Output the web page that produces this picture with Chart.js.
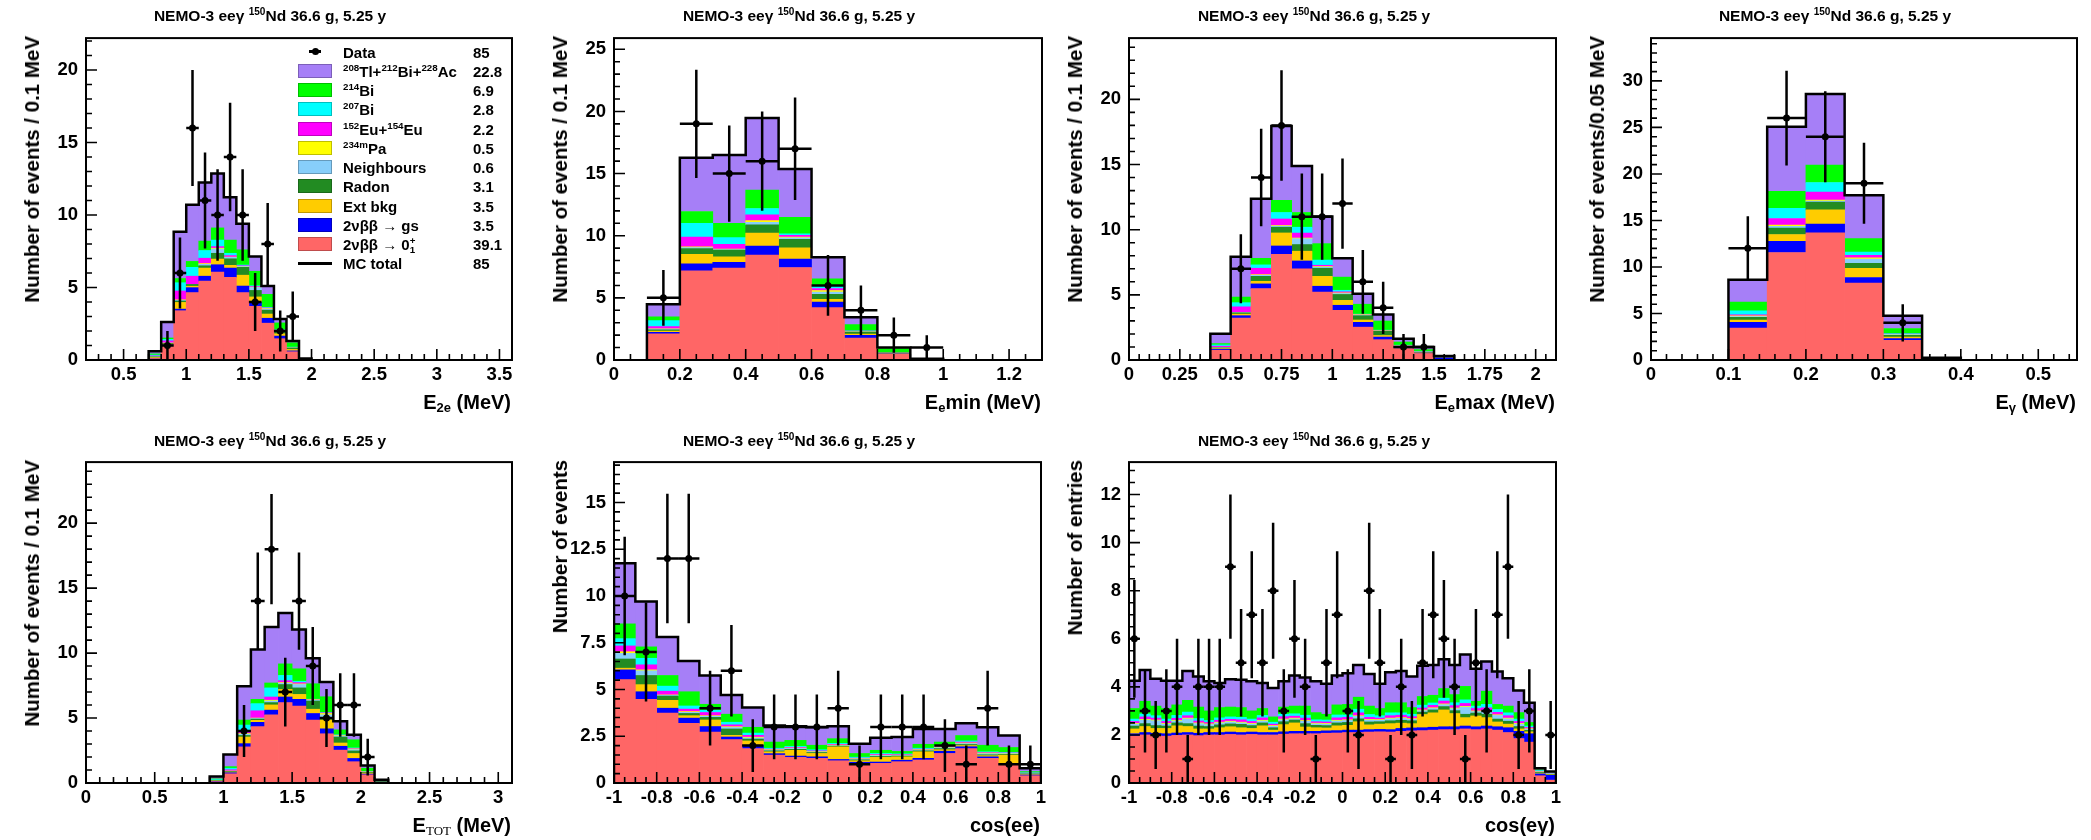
<!DOCTYPE html>
<html>
<head>
<meta charset="utf-8">
<title>NEMO-3 eeγ 150Nd</title>
<script src="https://cdn.jsdelivr.net/npm/chart.js@4/dist/chart.umd.min.js"></script>
<style>
  body { margin: 0; background: #fff; }
  #page { position: relative; width: 2091px; height: 840px; overflow: hidden;
          font-family: "Liberation Sans", Arial, Helvetica, sans-serif; font-weight: bold; color: #000; }
  #page canvas { position: absolute; }
  .txt { position: absolute; white-space: nowrap; }
  .txt sup, .txt sub { font-size: 0.65em; line-height: 0; position: relative; vertical-align: baseline; }
  .txt sup { top: -0.6em; }
  .txt sub { top: 0.3em; }
  .title { font-size: 15.5px; line-height: 15.5px; width: 400px; text-align: center; }
  .xtitle { font-size: 20px; line-height: 20px; text-align: right; }
  .ytitle { font-size: 20.5px; line-height: 21px; writing-mode: vertical-rl; transform: rotate(180deg); }
  .serif { font-family: "Liberation Serif", "Times New Roman", serif; font-weight: normal; }
  .leg { font-size: 15px; line-height: 15px; }
  .legbox { position: absolute; width: 34px; height: 14px; box-sizing: border-box; border: 1px solid rgba(0,0,0,0.25); }
  .legline { position: absolute; background: #000; }
  .legdot { position: absolute; width: 7px; height: 7px; border-radius: 50%; background: #000; }
</style>
</head>
<body>
<div id="page"></div>
<script>
// MC components, bottom of the stack first
const componentNames = [
  '2&nu;&beta;&beta; &rarr; 0<sub>1</sub><sup style="margin-left:-0.55em">+</sup>',
  '2&nu;&beta;&beta; &rarr; gs',
  'Ext bkg',
  'Radon',
  'Neighbours',
  '<sup>234m</sup>Pa',
  '<sup>152</sup>Eu+<sup>154</sup>Eu',
  '<sup>207</sup>Bi',
  '<sup>214</sup>Bi',
  '<sup>208</sup>Tl+<sup>212</sup>Bi+<sup>228</sup>Ac'
];
const componentColours = ['#ff6666', '#0000ff', '#ffcc00', '#228b22', '#87cefa', '#ffff00', '#ff00ff', '#00ffff', '#00ff00', '#a67ff7'];
const componentCounts = ['39.1', '3.5', '3.5', '3.1', '0.6', '0.5', '2.2', '2.8', '6.9', '22.8'];
const dataCount = '85';
const mcCount = '85';

// E2e, 0.1 MeV bins
const e2eCentres = [0.75, 0.85, 0.95, 1.05, 1.15, 1.25, 1.35, 1.45, 1.55, 1.65, 1.75, 1.85, 1.95];
const e2eData = [0, 1, 6, 16, 11, 10, 14, 10, 4, 8, 2, 3, 0];
const e2eStack = [
  [0.10, 1.00, 3.40, 4.65, 5.44, 6.07, 5.71, 4.65, 3.70, 2.54, 1.47, 0.57, 0.00],
  [0.02, 0.05, 0.11, 0.34, 0.34, 0.50, 0.63, 0.45, 0.30, 0.34, 0.18, 0.06, 0.00],
  [0.05, 0.05, 0.46, 0.10, 0.56, 0.39, 0.19, 0.75, 0.35, 0.29, 0.16, 0.10, 0.02],
  [0.05, 0.05, 0.10, 0.12, 0.16, 0.40, 0.45, 0.54, 0.45, 0.27, 0.20, 0.10, 0.08],
  [0.02, 0.02, 0.05, 0.00, 0.10, 0.30, 0.10, 0.05, 0.20, 0.07, 0.02, 0.02, 0.00],
  [0.00, 0.00, 0.03, 0.00, 0.05, 0.05, 0.02, 0.02, 0.02, 0.04, 0.01, 0.01, 0.00],
  [0.05, 0.15, 0.61, 0.57, 0.37, 0.11, 0.10, 0.04, 0.05, 0.04, 0.02, 0.01, 0.00],
  [0.05, 0.10, 0.57, 0.61, 0.53, 0.45, 0.16, 0.05, 0.05, 0.04, 0.02, 0.02, 0.00],
  [0.08, 0.10, 0.29, 0.41, 0.65, 0.84, 0.91, 1.05, 1.00, 0.90, 0.48, 0.30, 0.00],
  [0.18, 1.10, 3.22, 3.90, 4.04, 3.76, 2.95, 1.80, 1.02, 0.57, 0.27, 0.12, 0.00]
];

// Ee min
const eminCentres = [0.15, 0.25, 0.35, 0.45, 0.55, 0.65, 0.75, 0.85, 0.95];
const eminData = [5, 19, 15, 16, 17, 6, 4, 2, 1];
const eminStack = [
  [2.11, 7.18, 7.39, 8.44, 7.44, 4.22, 1.77, 0.45, 0.00],
  [0.12, 0.55, 0.47, 0.72, 0.69, 0.45, 0.21, 0.05, 0.03],
  [0.10, 0.77, 0.45, 1.05, 0.89, 0.21, 0.10, 0.04, 0.00],
  [0.10, 0.47, 0.53, 0.66, 0.69, 0.40, 0.16, 0.03, 0.05],
  [0.05, 0.08, 0.05, 0.21, 0.12, 0.18, 0.03, 0.01, 0.00],
  [0.03, 0.05, 0.03, 0.13, 0.07, 0.13, 0.02, 0.00, 0.00],
  [0.18, 0.80, 0.39, 0.48, 0.13, 0.16, 0.03, 0.01, 0.00],
  [0.48, 1.10, 0.53, 0.50, 0.13, 0.18, 0.03, 0.01, 0.00],
  [0.31, 0.95, 1.16, 1.48, 1.32, 0.61, 0.50, 0.32, 0.02],
  [1.01, 4.33, 5.49, 5.80, 3.88, 1.72, 0.58, 0.08, 0.00]
];

// Ee max
const emaxCentres = [0.45, 0.55, 0.65, 0.75, 0.85, 0.95, 1.05, 1.15, 1.25, 1.35, 1.45, 1.55];
const emaxData = [0, 7, 14, 18, 11, 11, 12, 6, 4, 1, 1, 0];
const emaxStack = [
  [0.75, 3.22, 5.48, 8.10, 6.99, 5.21, 3.82, 2.52, 1.56, 0.88, 0.50, 0.05],
  [0.08, 0.18, 0.36, 0.65, 0.61, 0.45, 0.38, 0.37, 0.20, 0.06, 0.04, 0.12],
  [0.05, 0.12, 0.20, 1.00, 0.75, 0.76, 0.38, 0.18, 0.12, 0.05, 0.03, 0.00],
  [0.05, 0.10, 0.38, 0.44, 0.51, 0.62, 0.45, 0.33, 0.33, 0.06, 0.03, 0.05],
  [0.02, 0.02, 0.08, 0.08, 0.45, 0.08, 0.07, 0.05, 0.02, 0.02, 0.01, 0.00],
  [0.01, 0.01, 0.05, 0.05, 0.05, 0.05, 0.05, 0.03, 0.02, 0.01, 0.00, 0.00],
  [0.10, 0.43, 0.49, 0.50, 0.38, 0.10, 0.08, 0.02, 0.02, 0.01, 0.01, 0.00],
  [0.10, 0.32, 0.26, 0.50, 0.45, 0.40, 0.12, 0.02, 0.02, 0.05, 0.05, 0.00],
  [0.10, 0.43, 0.50, 0.93, 1.13, 1.26, 1.01, 0.76, 0.70, 0.24, 0.13, 0.04],
  [0.75, 3.09, 4.58, 5.71, 3.57, 2.09, 1.44, 0.80, 0.50, 0.26, 0.20, 0.04]
];

// E gamma, 0.05 MeV bins
const egamCentres = [0.125, 0.175, 0.225, 0.275, 0.325, 0.375];
const egamData = [12, 26, 24, 19, 4, 0];
const egamStack = [
  [3.42, 11.55, 13.66, 8.27, 2.11, 0.00],
  [0.63, 1.20, 0.95, 0.60, 0.18, 0.05],
  [0.25, 0.74, 1.52, 0.99, 0.17, 0.05],
  [0.28, 0.70, 0.84, 0.53, 0.18, 0.10],
  [0.10, 0.18, 0.11, 0.45, 0.08, 0.00],
  [0.08, 0.14, 0.10, 0.15, 0.04, 0.00],
  [0.10, 0.70, 0.88, 0.27, 0.03, 0.00],
  [0.42, 1.09, 1.02, 0.35, 0.05, 0.00],
  [0.95, 1.83, 1.87, 1.44, 0.55, 0.00],
  [2.40, 6.94, 7.64, 4.66, 1.36, 0.05]
];

// E TOT
const etotCentres = [0.95, 1.05, 1.15, 1.25, 1.35, 1.45, 1.55, 1.65, 1.75, 1.85, 1.95, 2.05, 2.15];
const etotData = [0, 0, 4, 14, 18, 7, 14, 9, 5, 6, 6, 2, 0];
const etotStack = [
  [0.10, 0.71, 2.78, 4.34, 5.25, 6.19, 5.93, 4.85, 3.79, 2.53, 1.64, 0.63, 0.02],
  [0.03, 0.08, 0.25, 0.33, 0.36, 0.43, 0.51, 0.50, 0.38, 0.30, 0.25, 0.06, 0.05],
  [0.02, 0.05, 0.51, 0.15, 0.40, 0.58, 0.38, 0.33, 0.68, 0.25, 0.38, 0.08, 0.00],
  [0.03, 0.05, 0.12, 0.10, 0.18, 0.38, 0.50, 0.63, 0.20, 0.46, 0.20, 0.05, 0.08],
  [0.00, 0.02, 0.10, 0.05, 0.12, 0.10, 0.26, 0.07, 0.20, 0.08, 0.10, 0.02, 0.00],
  [0.00, 0.01, 0.05, 0.03, 0.06, 0.05, 0.05, 0.03, 0.10, 0.04, 0.05, 0.01, 0.00],
  [0.03, 0.10, 0.25, 0.56, 0.25, 0.15, 0.10, 0.02, 0.05, 0.02, 0.03, 0.01, 0.00],
  [0.05, 0.12, 0.40, 0.55, 0.70, 0.40, 0.10, 0.02, 0.03, 0.03, 0.05, 0.03, 0.05],
  [0.06, 0.12, 0.39, 0.33, 0.38, 0.89, 0.96, 1.19, 1.21, 0.38, 0.63, 0.25, 0.00],
  [0.18, 0.94, 2.60, 3.84, 4.30, 3.91, 3.03, 1.96, 1.14, 0.66, 0.38, 0.20, 0.05]
];

// cos(ee)
const cosEeCentres = [-0.95, -0.85, -0.75, -0.65, -0.55, -0.45, -0.35, -0.25, -0.15, -0.05,
                      0.05, 0.15, 0.25, 0.35, 0.45, 0.55, 0.65, 0.75, 0.85, 0.95];
const cosEeData = [10, 7, 12, 12, 4, 6, 2, 3, 3, 3, 4, 1, 3, 3, 3, 2, 1, 4, 1, 1];
const cosEeStack = [
  [5.53, 4.47, 3.74, 3.19, 2.72, 2.32, 1.84, 1.49, 1.37, 1.32, 1.19, 1.02, 1.05, 1.14, 1.23, 1.58, 1.84, 1.32, 0.96, 0.39],
  [0.52, 0.41, 0.26, 0.28, 0.30, 0.14, 0.18, 0.08, 0.07, 0.08, 0.07, 0.09, 0.07, 0.08, 0.09, 0.12, 0.10, 0.08, 0.05, 0.04],
  [0.09, 0.38, 0.42, 0.13, 0.35, 0.09, 0.23, 0.10, 0.31, 0.18, 0.67, 0.08, 0.25, 0.18, 0.35, 0.08, 0.06, 0.06, 0.48, 0.03],
  [0.49, 0.49, 0.23, 0.12, 0.14, 0.34, 0.10, 0.05, 0.05, 0.05, 0.04, 0.05, 0.05, 0.04, 0.05, 0.06, 0.06, 0.05, 0.04, 0.03],
  [0.30, 0.25, 0.04, 0.06, 0.06, 0.08, 0.06, 0.04, 0.05, 0.03, 0.03, 0.04, 0.05, 0.03, 0.04, 0.05, 0.05, 0.06, 0.04, 0.02],
  [0.09, 0.05, 0.02, 0.04, 0.03, 0.04, 0.04, 0.02, 0.02, 0.02, 0.03, 0.02, 0.02, 0.02, 0.02, 0.03, 0.03, 0.03, 0.02, 0.01],
  [0.31, 0.27, 0.20, 0.13, 0.17, 0.10, 0.10, 0.03, 0.04, 0.04, 0.04, 0.03, 0.04, 0.03, 0.03, 0.04, 0.05, 0.03, 0.02, 0.01],
  [0.39, 0.35, 0.27, 0.17, 0.12, 0.14, 0.12, 0.05, 0.05, 0.06, 0.05, 0.05, 0.05, 0.04, 0.05, 0.05, 0.06, 0.04, 0.03, 0.02],
  [0.79, 0.61, 0.57, 0.76, 0.32, 0.43, 0.31, 0.33, 0.32, 0.24, 0.25, 0.20, 0.17, 0.13, 0.21, 0.18, 0.29, 0.35, 0.26, 0.06],
  [3.24, 2.42, 2.06, 1.65, 1.54, 1.02, 1.06, 0.88, 0.76, 0.96, 0.67, 0.52, 0.67, 0.77, 0.82, 0.70, 0.65, 0.96, 0.64, 0.18]
];

// cos(e gamma), 0.05 bins, two entries per event
const cosEgCentres = [-0.975, -0.925, -0.875, -0.825, -0.775, -0.725, -0.675, -0.625, -0.575, -0.525,
                      -0.475, -0.425, -0.375, -0.325, -0.275, -0.225, -0.175, -0.125, -0.075, -0.025,
                      0.025, 0.075, 0.125, 0.175, 0.225, 0.275, 0.325, 0.375, 0.425, 0.475,
                      0.525, 0.575, 0.625, 0.675, 0.725, 0.775, 0.825, 0.875, 0.925, 0.975];
const cosEgData = [6, 3, 2, 3, 4, 1, 4, 4, 4, 9,
                   5, 7, 5, 8, 3, 6, 4, 1, 5, 7,
                   3, 2, 8, 5, 1, 4, 2, 5, 7, 6,
                   4, 1, 5, 3, 7, 9, 2, 3, 0, 2];
const cosEgStack = [
  [1.95, 2.00, 1.97, 1.95, 1.98, 2.00, 1.97, 2.00, 2.00, 2.02, 2.00, 2.02, 2.00, 2.00, 2.03, 2.05, 2.05, 2.05, 2.07, 2.08,
   2.10, 2.10, 2.12, 2.13, 2.12, 2.15, 2.17, 2.18, 2.20, 2.22, 2.22, 2.25, 2.22, 2.25, 2.20, 2.10, 1.85, 1.70, 0.30, 0.12],
  [0.10, 0.10, 0.10, 0.10, 0.10, 0.10, 0.10, 0.10, 0.10, 0.10, 0.10, 0.10, 0.10, 0.10, 0.10, 0.10, 0.10, 0.10, 0.10, 0.10,
   0.10, 0.10, 0.10, 0.10, 0.10, 0.12, 0.12, 0.12, 0.12, 0.12, 0.12, 0.12, 0.12, 0.12, 0.14, 0.20, 0.30, 0.35, 0.08, 0.20],
  [0.20, 0.25, 0.20, 0.22, 0.30, 0.25, 0.18, 0.15, 0.20, 0.22, 0.20, 0.15, 0.28, 0.10, 0.30, 0.35, 0.18, 0.15, 0.12, 0.20,
   0.20, 0.35, 0.20, 0.22, 0.25, 0.22, 0.18, 0.55, 0.60, 0.70, 0.55, 0.35, 0.45, 0.35, 0.20, 0.15, 0.10, 0.08, 0.03, 0.02],
  [0.12, 0.12, 0.12, 0.10, 0.12, 0.12, 0.12, 0.10, 0.12, 0.12, 0.14, 0.12, 0.12, 0.10, 0.12, 0.12, 0.14, 0.10, 0.10, 0.12,
   0.12, 0.12, 0.12, 0.10, 0.12, 0.12, 0.12, 0.10, 0.12, 0.14, 0.12, 0.14, 0.12, 0.14, 0.12, 0.12, 0.10, 0.06, 0.03, 0.02],
  [0.08, 0.15, 0.20, 0.08, 0.08, 0.20, 0.10, 0.08, 0.08, 0.08, 0.06, 0.06, 0.08, 0.06, 0.08, 0.05, 0.10, 0.06, 0.06, 0.08,
   0.08, 0.10, 0.08, 0.06, 0.08, 0.08, 0.06, 0.06, 0.06, 0.08, 0.08, 0.30, 0.06, 0.12, 0.15, 0.10, 0.10, 0.05, 0.02, 0.01],
  [0.03, 0.03, 0.03, 0.03, 0.03, 0.03, 0.03, 0.03, 0.03, 0.03, 0.03, 0.03, 0.03, 0.03, 0.03, 0.03, 0.03, 0.03, 0.03, 0.03,
   0.03, 0.03, 0.03, 0.03, 0.03, 0.03, 0.03, 0.03, 0.03, 0.03, 0.03, 0.03, 0.03, 0.03, 0.03, 0.03, 0.03, 0.02, 0.01, 0.00],
  [0.08, 0.10, 0.08, 0.08, 0.08, 0.10, 0.08, 0.06, 0.08, 0.08, 0.10, 0.08, 0.10, 0.06, 0.10, 0.08, 0.10, 0.06, 0.06, 0.10,
   0.10, 0.12, 0.08, 0.06, 0.10, 0.10, 0.08, 0.08, 0.10, 0.12, 0.10, 0.12, 0.10, 0.12, 0.10, 0.10, 0.08, 0.05, 0.02, 0.01],
  [0.10, 0.12, 0.10, 0.10, 0.12, 0.15, 0.10, 0.08, 0.10, 0.10, 0.10, 0.10, 0.10, 0.08, 0.10, 0.10, 0.12, 0.08, 0.08, 0.12,
   0.10, 0.15, 0.12, 0.10, 0.12, 0.10, 0.10, 0.12, 0.10, 0.12, 0.12, 0.15, 0.10, 0.14, 0.12, 0.12, 0.10, 0.06, 0.03, 0.02],
  [0.44, 0.53, 0.40, 0.44, 0.44, 0.49, 0.48, 0.40, 0.43, 0.41, 0.41, 0.34, 0.29, 0.22, 0.30, 0.32, 0.38, 0.30, 0.24, 0.42,
   0.44, 0.50, 0.35, 0.30, 0.42, 0.42, 0.28, 0.36, 0.32, 0.40, 0.34, 0.56, 0.20, 0.55, 0.21, 0.28, 0.27, 0.15, 0.03, 0.01],
  [1.15, 1.30, 1.14, 1.15, 1.00, 1.22, 1.27, 1.23, 1.02, 1.16, 1.16, 1.23, 1.06, 1.20, 1.07, 1.27, 1.19, 1.30, 1.27, 1.22,
   1.30, 1.34, 1.33, 1.03, 1.27, 1.32, 1.29, 1.28, 1.26, 1.22, 1.23, 1.33, 1.35, 1.23, 1.37, 1.16, 0.92, 0.82, 0.06, 0.07]
];

const titleHtml = 'NEMO-3 ee&gamma; <sup>150</sup>Nd 36.6 g, 5.25 y';

// layout of the seven pads (frame = left, top, right, bottom in page pixels)
const panels = [
  {centres: e2eCentres, data: e2eData, stack: e2eStack, binW: 0.1, xMin: 0.2, xMax: 3.6, xStep: 0.5, xMinor: 0.1,
   yMax: 22.2, yStep: 5, yMinor: 1, frame: [86, 33, 512, 360], titleX: 270, titleBase: 20.7,
   yTitle: 'Number of events / 0.1 MeV', xTitle: 'E<sub>2e</sub> (MeV)'},
  {centres: eminCentres, data: eminData, stack: eminStack, binW: 0.1, xMin: 0, xMax: 1.3, xStep: 0.2, xMinor: 0.05,
   yMax: 25.9, yStep: 5, yMinor: 1, frame: [614, 33, 1042, 360], titleX: 799, titleBase: 20.7,
   yTitle: 'Number of events / 0.1 MeV', xTitle: 'E<sub>e</sub>min (MeV)'},
  {centres: emaxCentres, data: emaxData, stack: emaxStack, binW: 0.1, xMin: 0, xMax: 2.1, xStep: 0.25, xMinor: 0.05,
   yMax: 24.7, yStep: 5, yMinor: 1, frame: [1129, 33, 1556, 360], titleX: 1314, titleBase: 20.7,
   yTitle: 'Number of events / 0.1 MeV', xTitle: 'E<sub>e</sub>max (MeV)'},
  {centres: egamCentres, data: egamData, stack: egamStack, binW: 0.05, xMin: 0, xMax: 0.55, xStep: 0.1, xMinor: 0.02,
   yMax: 34.6, yStep: 5, yMinor: 1, frame: [1651, 33, 2077, 360], titleX: 1835, titleBase: 20.7,
   yTitle: 'Number of events/0.05 MeV', xTitle: 'E<sub>&gamma;</sub> (MeV)'},
  {centres: etotCentres, data: etotData, stack: etotStack, binW: 0.1, xMin: 0, xMax: 3.1, xStep: 0.5, xMinor: 0.1,
   yMax: 24.7, yStep: 5, yMinor: 1, frame: [86, 457, 512, 783], titleX: 270, titleBase: 446,
   yTitle: 'Number of events / 0.1 MeV', xTitle: 'E<sub class="serif">TOT</sub> (MeV)'},
  {centres: cosEeCentres, data: cosEeData, stack: cosEeStack, binW: 0.1, xMin: -1, xMax: 1, xStep: 0.2, xMinor: 0.05,
   yMax: 17.16, yStep: 2.5, yMinor: 0.5, frame: [614, 457, 1041, 783], titleX: 799, titleBase: 446,
   yTitle: 'Number of events', xTitle: 'cos(ee)'},
  {centres: cosEgCentres, data: cosEgData, stack: cosEgStack, binW: 0.05, xMin: -1, xMax: 1, xStep: 0.2, xMinor: 0.05,
   yMax: 13.35, yStep: 2, yMinor: 0.5, frame: [1129, 457, 1556, 783], titleX: 1314, titleBase: 446,
   yTitle: 'Number of entries', xTitle: 'cos(e&gamma;)'}
];

const PAD = {l: 60, t: 14, r: 26, b: 34};
const page = document.getElementById('page');

Chart.defaults.font.family = '"Liberation Sans", Arial, Helvetica, sans-serif';
Chart.defaults.font.size = 18.5;
Chart.defaults.font.weight = 'bold';
Chart.defaults.color = '#000';

const fmt = v => String(Math.round(v * 1000) / 1000);

function tickMarks(scale, minor, major, draw) {
  const k0 = Math.ceil(scale.min / minor - 1e-6), k1 = Math.floor(scale.max / minor + 1e-6);
  for (let k = k0; k <= k1; k++) {
    const v = k * minor, r = v / major;
    draw(scale.getPixelForValue(v), Math.abs(r - Math.round(r)) < 1e-6 ? 11 : 6);
  }
}

// ROOT-like look: error bars, inward ticks, frame
const histoFrame = {
  id: 'histoFrame',
  afterDatasetsDraw(chart) {
    const {ctx, chartArea: a, scales: {x, y}} = chart;
    ctx.save();
    ctx.beginPath();
    ctx.rect(a.left, a.top, a.right - a.left, a.bottom - a.top);
    ctx.clip();
    ctx.strokeStyle = '#000';
    ctx.lineWidth = 2.5;
    chart.data.datasets.forEach(ds => {
      if (!ds.errorBars) return;
      ds.data.forEach(p => {
        if (p.y === null) return;
        const err = Math.sqrt(p.y);
        const px = x.getPixelForValue(p.x), py = y.getPixelForValue(p.y);
        ctx.beginPath();
        ctx.moveTo(px, y.getPixelForValue(p.y - err));
        ctx.lineTo(px, y.getPixelForValue(p.y + err));
        ctx.moveTo(x.getPixelForValue(p.x - ds.halfWidth), py);
        ctx.lineTo(x.getPixelForValue(p.x + ds.halfWidth), py);
        ctx.stroke();
      });
    });
    ctx.restore();
  },
  afterDraw(chart, args, opts) {
    const {ctx, chartArea: a, scales: {x, y}} = chart;
    ctx.save();
    ctx.strokeStyle = '#000';
    ctx.lineWidth = 1.6;
    ctx.beginPath();
    tickMarks(x, opts.xMinor, x.options.ticks.stepSize, (p, len) => { ctx.moveTo(p, a.bottom); ctx.lineTo(p, a.bottom - len); });
    tickMarks(y, opts.yMinor, y.options.ticks.stepSize, (p, len) => { ctx.moveTo(a.left, p); ctx.lineTo(a.left + len, p); });
    ctx.stroke();
    ctx.lineWidth = 2;
    ctx.strokeRect(a.left, a.top, a.right - a.left, a.bottom - a.top);
    ctx.restore();
  }
};

function addText(cls, html, style) {
  const d = document.createElement('div');
  d.className = 'txt ' + cls;
  d.innerHTML = html;
  Object.assign(d.style, style);
  page.appendChild(d);
  return d;
}

function drawPanel(p) {
  const [fl, ft, fr, fb] = p.frame;
  const cv = document.createElement('canvas');
  cv.width = fr - fl + PAD.l + PAD.r;
  cv.height = fb - ft + PAD.t + PAD.b;
  cv.style.left = (fl - PAD.l) + 'px';
  cv.style.top = (ft - PAD.t) + 'px';
  page.appendChild(cv);

  const half = p.binW / 2;
  const totals = p.centres.map((_, i) => p.stack.reduce((s, row) => s + row[i], 0));
  const outline = [{x: p.centres[0] - half, y: 0}];
  p.centres.forEach((c, i) => outline.push({x: c - half, y: totals[i]}));
  outline.push({x: p.centres[p.centres.length - 1] + half, y: 0});

  const datasets = p.stack.map((row, c) => ({
    type: 'bar',
    label: componentNames[c].replace(/<[^>]*>/g, ''),
    data: p.centres.map((x, i) => ({x, y: row[i]})),
    backgroundColor: componentColours[c],
    borderWidth: 0,
    barPercentage: 1,
    categoryPercentage: 1,
    order: 2
  }));
  datasets.push({
    type: 'line', label: 'MC total', data: outline, stepped: 'before',
    borderColor: '#000', borderWidth: 2.5, pointRadius: 0, fill: false, stack: 'mc', order: 1
  });
  datasets.push({
    type: 'line', label: 'Data',
    data: p.centres.map((x, i) => ({x, y: p.data[i] > 0 ? p.data[i] : null})),
    showLine: false, pointRadius: 3.5, pointBackgroundColor: '#000', pointBorderWidth: 0,
    stack: 'data', order: 0, errorBars: true, halfWidth: half
  });

  new Chart(cv, {
    type: 'bar',
    data: {datasets},
    options: {
      responsive: false,
      animation: false,
      layout: {padding: {left: 0, top: PAD.t, right: PAD.r, bottom: 0}},
      plugins: {legend: {display: false}, tooltip: {enabled: false},
                histoFrame: {xMinor: p.xMinor, yMinor: p.yMinor}},
      scales: {
        x: {
          type: 'linear', min: p.xMin, max: p.xMax, stacked: true, offset: false,
          grid: {display: false, drawTicks: false, offset: false}, border: {display: false},
          ticks: {stepSize: p.xStep, includeBounds: false, autoSkip: false, maxRotation: 0, padding: 4, callback: fmt},
          afterFit: s => { s.height = PAD.b; }
        },
        y: {
          type: 'linear', min: 0, max: p.yMax, stacked: true,
          grid: {display: false, drawTicks: false}, border: {display: false},
          ticks: {stepSize: p.yStep, includeBounds: false, padding: 8, callback: fmt},
          afterFit: s => { s.width = PAD.l; }
        }
      }
    },
    plugins: [histoFrame]
  });

  addText('title', titleHtml, {left: (p.titleX - 200) + 'px', top: (p.titleBase - 13.1) + 'px'});
  addText('ytitle', p.yTitle, {left: (fl - 55 - 10.5) + 'px', top: (ft + 3) + 'px'});
  addText('xtitle', p.xTitle, {right: (2091 - fr + 1) + 'px', top: (fb + 48.5 - 16.9) + 'px'});
}

panels.forEach(drawPanel);

// legend of the first pad
const LEG = {boxL: 298, boxW: 34, textL: 343, countL: 473, y0: 51.7, dy: 19.25};
function legendRow(i, kind, html, count, colour) {
  const cy = LEG.y0 + i * LEG.dy;
  if (kind === 'box') {
    const b = document.createElement('div');
    b.className = 'legbox';
    Object.assign(b.style, {left: LEG.boxL + 'px', top: (cy - 7) + 'px', background: colour});
    page.appendChild(b);
  } else if (kind === 'line') {
    const l = document.createElement('div');
    l.className = 'legline';
    Object.assign(l.style, {left: LEG.boxL + 'px', top: (cy - 1.25) + 'px', width: LEG.boxW + 'px', height: '2.5px'});
    page.appendChild(l);
  } else {
    const cx = LEG.boxL + LEG.boxW / 2;
    const l = document.createElement('div');
    l.className = 'legline';
    Object.assign(l.style, {left: (cx - 6) + 'px', top: (cy - 1.25) + 'px', width: '12px', height: '2.5px'});
    page.appendChild(l);
    const d = document.createElement('div');
    d.className = 'legdot';
    Object.assign(d.style, {left: (cx - 3.5) + 'px', top: (cy - 3.5) + 'px'});
    page.appendChild(d);
  }
  addText('leg', html, {left: LEG.textL + 'px', top: (cy - 7.2) + 'px'});
  addText('leg', count, {left: LEG.countL + 'px', top: (cy - 7.2) + 'px'});
}
let row = 0;
legendRow(row++, 'data', 'Data', dataCount);
for (let c = componentNames.length - 1; c >= 0; c--) {
  legendRow(row++, 'box', componentNames[c], componentCounts[c], componentColours[c]);
}
legendRow(row++, 'line', 'MC total', mcCount);
</script>
</body>
</html>
